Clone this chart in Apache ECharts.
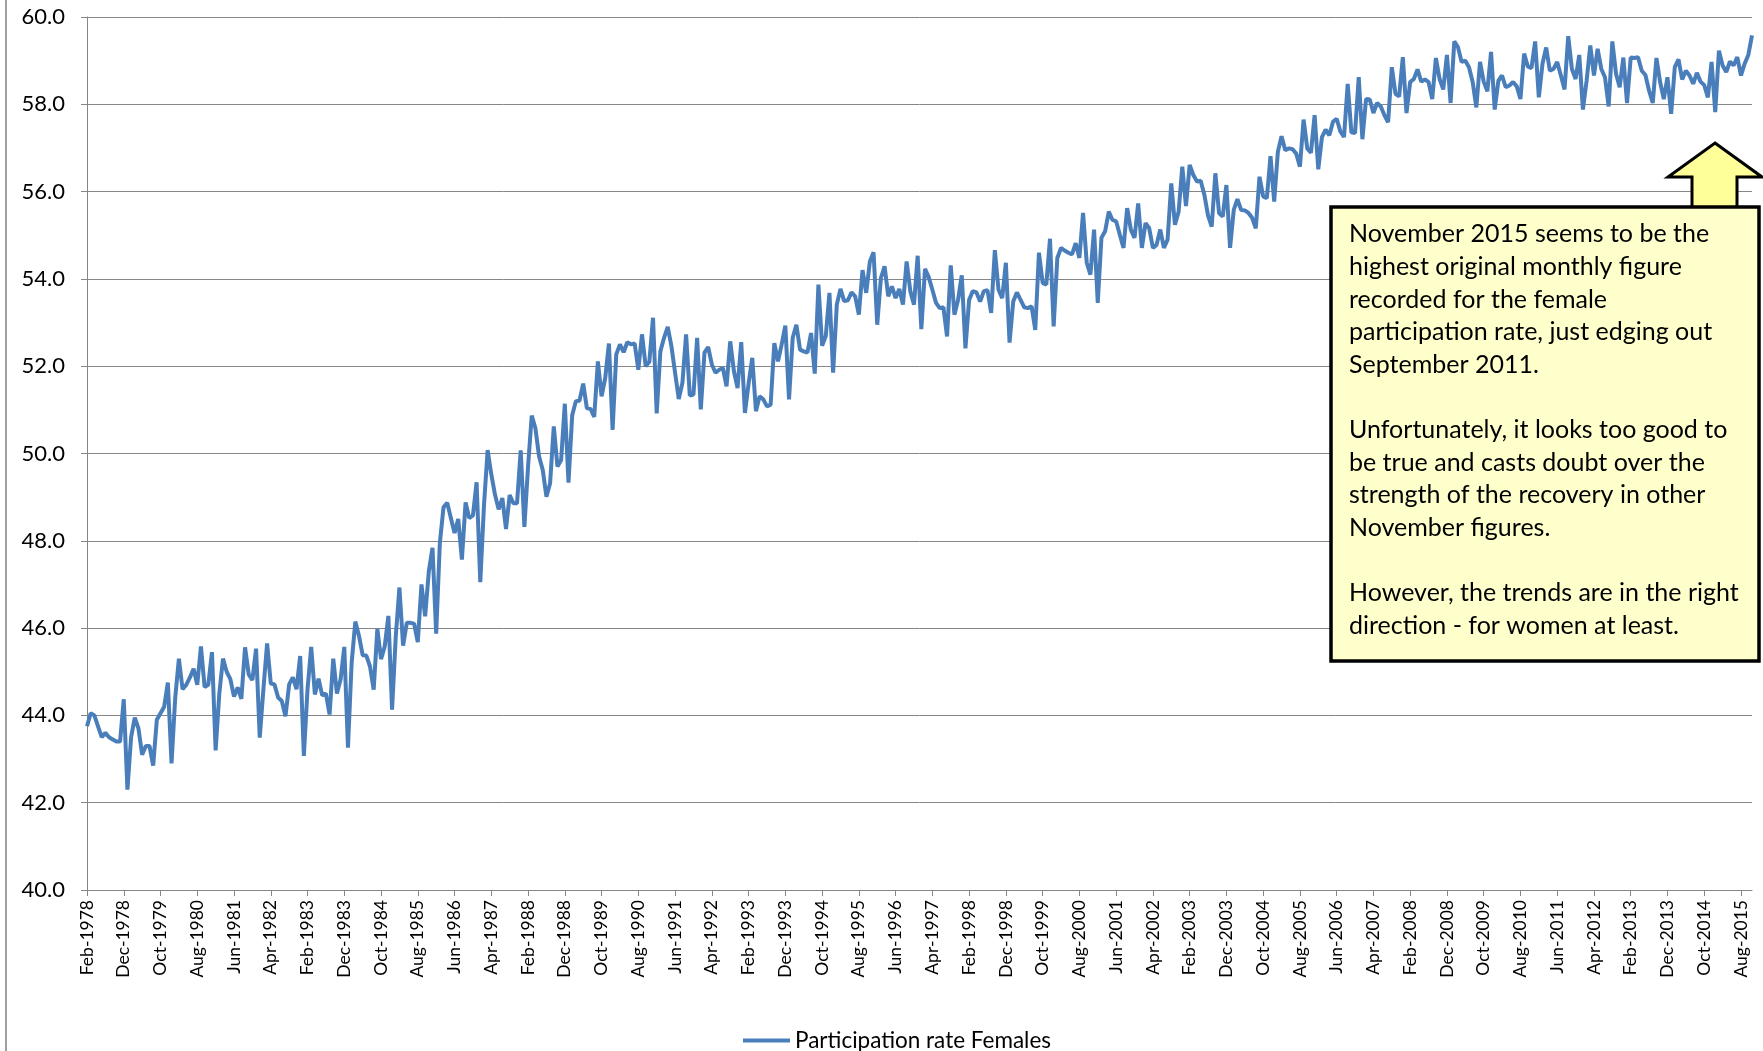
<!DOCTYPE html>
<html><head><meta charset="utf-8">
<script src="https://cdn.jsdelivr.net/npm/echarts/dist/echarts.min.js"></script>
<style>html,body{margin:0;padding:0;background:#fff}#c{width:1763px;height:1051px}</style>
</head><body><div id="c"></div>
<script>
// Category labels
const monthNames = ['Jan','Feb','Mar','Apr','May','Jun','Jul','Aug','Sep','Oct','Nov','Dec'];
const startYear = 1978;
const startMonthIndex = 1; // Feb
const yTicks = [40, 42, 44, 46, 48, 50, 52, 54, 56, 58, 60];
const seriesName = 'Participation rate Females';

// Participation rate, Females (original), monthly values by year
const r1978 = [43.75, 44.05, 44.0, 43.75, 43.5, 43.6, 43.5, 43.45, 43.4, 43.4, 44.37];
const r1979 = [42.3, 43.5, 43.95, 43.7, 43.1, 43.3, 43.3, 42.85, 43.9, 44.05, 44.2, 44.75];
const r1980 = [42.9, 44.4, 45.3, 44.6, 44.7, 44.87, 45.07, 44.7, 45.58, 44.65, 44.7, 45.45];
const r1981 = [43.2, 44.5, 45.3, 45.0, 44.83, 44.43, 44.64, 44.38, 45.56, 44.94, 44.81, 45.53];
const r1982 = [43.49, 44.6, 45.65, 44.73, 44.71, 44.41, 44.33, 43.98, 44.71, 44.87, 44.6, 45.36];
const r1983 = [43.07, 44.6, 45.57, 44.48, 44.84, 44.46, 44.5, 44.02, 45.3, 44.5, 44.83, 45.57];
const r1984 = [43.26, 45.2, 46.15, 45.82, 45.38, 45.37, 45.12, 44.59, 45.98, 45.29, 45.58, 46.28];
const r1985 = [44.13, 45.8, 46.93, 45.6, 46.12, 46.12, 46.1, 45.68, 47.0, 46.27, 47.3, 47.84];
const r1986 = [45.87, 47.95, 48.77, 48.87, 48.52, 48.18, 48.5, 47.57, 48.88, 48.52, 48.58, 49.34];
const r1987 = [47.05, 48.8, 50.08, 49.52, 49.06, 48.72, 48.98, 48.27, 49.05, 48.86, 48.86, 50.07];
const r1988 = [48.32, 49.7, 50.87, 50.58, 49.93, 49.62, 49.01, 49.32, 50.62, 49.7, 49.85, 51.14];
const r1989 = [49.33, 50.87, 51.2, 51.21, 51.6, 51.04, 51.02, 50.84, 52.11, 51.31, 51.73, 52.52];
const r1990 = [50.54, 52.27, 52.5, 52.32, 52.55, 52.5, 52.52, 51.92, 52.73, 52.0, 52.1, 53.11];
const r1991 = [50.92, 52.34, 52.65, 52.9, 52.46, 51.85, 51.25, 51.62, 52.73, 51.33, 51.35, 52.65];
const r1992 = [51.01, 52.31, 52.44, 52.04, 51.85, 51.92, 51.96, 51.54, 52.57, 51.89, 51.5, 52.55];
const r1993 = [50.93, 51.6, 52.19, 50.97, 51.31, 51.24, 51.08, 51.12, 52.53, 52.11, 52.5, 52.93];
const r1994 = [51.24, 52.65, 52.95, 52.38, 52.34, 52.31, 52.76, 51.83, 53.87, 52.47, 52.69, 53.68];
const r1995 = [51.85, 53.41, 53.77, 53.49, 53.51, 53.69, 53.6, 53.18, 54.2, 53.68, 54.4, 54.61];
const r1996 = [52.95, 54.02, 54.29, 53.6, 53.83, 53.56, 53.77, 53.41, 54.4, 53.72, 53.41, 54.53];
const r1997 = [52.85, 54.23, 54.04, 53.75, 53.45, 53.33, 53.35, 52.68, 54.31, 53.18, 53.52, 54.08];
const r1998 = [52.41, 53.52, 53.72, 53.69, 53.48, 53.72, 53.74, 53.22, 54.66, 53.75, 53.56, 54.37];
const r1999 = [52.54, 53.48, 53.69, 53.52, 53.35, 53.33, 53.37, 52.83, 54.6, 53.91, 53.87, 54.92];
const r2000 = [52.91, 54.48, 54.71, 54.65, 54.6, 54.56, 54.82, 54.48, 55.51, 54.37, 54.1, 55.13];
const r2001 = [53.45, 54.94, 55.09, 55.54, 55.35, 55.32, 55.01, 54.71, 55.62, 55.13, 54.94, 55.73];
const r2002 = [54.71, 55.28, 55.16, 54.71, 54.78, 55.13, 54.71, 54.9, 56.19, 55.24, 55.54, 56.57];
const r2003 = [55.67, 56.61, 56.38, 56.23, 56.25, 55.93, 55.45, 55.2, 56.42, 55.51, 55.43, 56.15];
const r2004 = [54.71, 55.58, 55.83, 55.58, 55.57, 55.51, 55.4, 55.16, 56.34, 55.89, 55.85, 56.81];
const r2005 = [55.77, 56.91, 57.27, 56.95, 56.99, 56.97, 56.87, 56.57, 57.65, 56.99, 56.89, 57.75];
const r2006 = [56.51, 57.25, 57.42, 57.29, 57.6, 57.67, 57.38, 57.25, 58.47, 57.36, 57.34, 58.62];
const r2007 = [57.2, 58.12, 58.11, 57.8, 58.03, 57.95, 57.75, 57.59, 58.85, 58.24, 58.18, 59.08];
const r2008 = [57.8, 58.51, 58.58, 58.8, 58.52, 58.57, 58.51, 58.12, 59.06, 58.58, 58.34, 59.13];
const r2009 = [58.03, 59.44, 59.31, 58.97, 59.0, 58.85, 58.51, 57.93, 58.97, 58.52, 58.3, 59.2];
const r2010 = [57.88, 58.54, 58.66, 58.39, 58.43, 58.51, 58.41, 58.12, 59.16, 58.87, 58.83, 59.44];
const r2011 = [58.16, 58.93, 59.3, 58.77, 58.81, 58.97, 58.66, 58.34, 59.56, 58.81, 58.58, 59.13];
const r2012 = [57.88, 58.54, 59.35, 58.66, 59.27, 58.81, 58.62, 57.95, 59.44, 58.7, 58.39, 59.07];
const r2013 = [58.03, 59.07, 59.06, 59.08, 58.77, 58.67, 58.31, 58.03, 59.06, 58.51, 58.12, 58.62];
const r2014 = [57.78, 58.85, 59.03, 58.57, 58.77, 58.66, 58.47, 58.72, 58.52, 58.44, 58.16, 58.97];
const r2015 = [57.82, 59.23, 58.89, 58.74, 58.98, 58.89, 59.08, 58.66, 58.93, 59.13, 59.58];

const annotationLines = [
  'November 2015 seems to be the',
  'highest original monthly figure',
  'recorded for the female',
  'participation rate, just edging out',
  'September 2011.',
  '',
  'Unfortunately, it looks too good to',
  'be true and casts doubt over the',
  'strength of the recovery in other',
  'November figures.',
  '',
  'However, the trends are in the right',
  'direction - for women at least.'
];

const values = [].concat(r1978, r1979, r1980, r1981, r1982, r1983, r1984, r1985, r1986, r1987,
  r1988, r1989, r1990, r1991, r1992, r1993, r1994, r1995, r1996, r1997, r1998, r1999, r2000,
  r2001, r2002, r2003, r2004, r2005, r2006, r2007, r2008, r2009, r2010, r2011, r2012, r2013,
  r2014, r2015);
const categories = values.map(function (_, i) {
  const t = startMonthIndex + i;
  return monthNames[t % 12] + '-' + (startYear + Math.floor(t / 12));
});

const FONT = 'Lato, "Open Sans", sans-serif';
const chart = echarts.init(document.getElementById('c'), null, {renderer: 'canvas'});
chart.setOption({
  animation: false,
  backgroundColor: '#ffffff',
  grid: {left: 87, right: 11, top: 17, bottom: 161, containLabel: false},
  xAxis: {
    type: 'category',
    data: categories,
    boundaryGap: false,
    axisLine: {show: true, lineStyle: {color: '#868686', width: 1}},
    axisTick: {show: true, interval: 9, length: 6, lineStyle: {color: '#868686'}},
    axisLabel: {interval: 9, rotate: 90, fontSize: 17.5, color: '#000', fontFamily: FONT, margin: 10},
    splitLine: {show: false}
  },
  yAxis: {
    type: 'value',
    min: yTicks[0],
    max: yTicks[yTicks.length - 1],
    interval: yTicks[1] - yTicks[0],
    axisLine: {show: true, lineStyle: {color: '#868686', width: 1}},
    axisTick: {show: true, length: 6, lineStyle: {color: '#868686'}},
    axisLabel: {fontSize: 22, color: '#000', fontFamily: FONT, margin: 22,
      formatter: function (v) { return v.toFixed(1); }},
    splitLine: {show: true, lineStyle: {color: '#868686', width: 1}}
  },
  legend: {
    left: 738, top: 1024,
    itemWidth: 47, itemHeight: 4, itemGap: 6,
    icon: 'rect',
    textStyle: {fontSize: 22.5, color: '#000', fontFamily: FONT},
    data: [seriesName]
  },
  series: [{
    name: seriesName,
    type: 'line',
    data: values,
    showSymbol: false,
    symbol: 'none',
    lineStyle: {color: '#4A7EBB', width: 4},
    itemStyle: {color: '#4A7EBB'}
  }],
  graphic: [
    {type: 'line', shape: {x1: 6, y1: 0, x2: 6, y2: 1051}, style: {stroke: '#7f7f7f', lineWidth: 1.5}},
    {type: 'polygon', z: 100,
      shape: {points: [[1715, 143], [1762, 177], [1737, 177], [1737, 208], [1692, 208], [1692, 177], [1668, 177]]},
      style: {fill: '#FFFF99', stroke: '#000', lineWidth: 3}},
    {type: 'rect', z: 101, shape: {x: 1331, y: 207, width: 428, height: 454},
      style: {fill: '#FFFFCC', stroke: '#000', lineWidth: 3.5}},
    {type: 'text', z: 102, left: 1349, top: 218,
      style: {text: annotationLines.join('\n'), font: '25px ' + FONT, fill: '#000', lineHeight: 32.6}}
  ]
});
</script>
</body></html>
